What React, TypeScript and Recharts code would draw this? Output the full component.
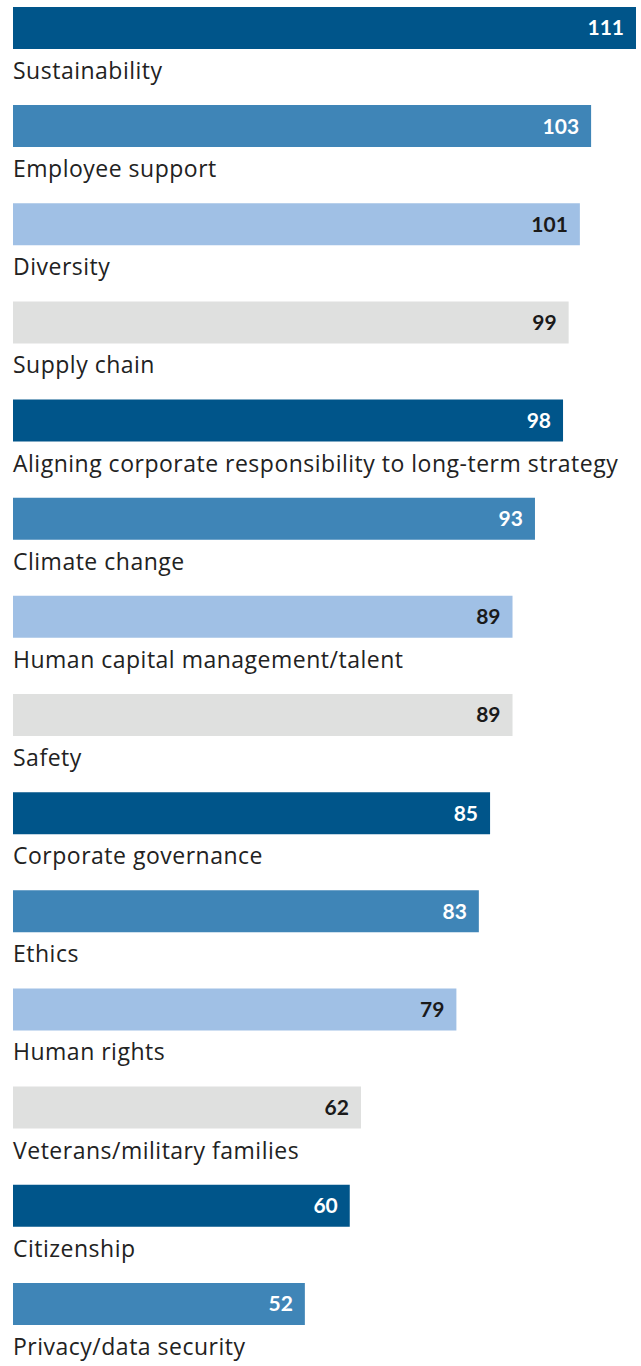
import { BarChart, Bar, XAxis, YAxis, Cell, LabelList } from "recharts"

const categories = [
  "Sustainability",
  "Employee support",
  "Diversity",
  "Supply chain",
  "Aligning corporate responsibility to long-term strategy",
  "Climate change",
  "Human capital management/talent",
  "Safety",
  "Corporate governance",
  "Ethics",
  "Human rights",
  "Veterans/military families",
  "Citizenship",
  "Privacy/data security",
]

const counts = [111, 103, 101, 99, 98, 93, 89, 89, 85, 83, 79, 62, 60, 52]

// colours repeat every four bars
const palette = ["#00558a", "#3f85b7", "#a0c0e5", "#dfe0df"]
const valueInk = ["#ffffff", "#ffffff", "#1a1a1a", "#1a1a1a"]

const data = categories.map((name, i) => ({ name, value: counts[i], idx: i }))

const FONT = "'Open Sans', 'Noto Sans', sans-serif"
const VALUE_FONT = "Lato, 'Noto Sans', sans-serif"

// eslint-disable-next-line @typescript-eslint/no-explicit-any
function NameLabel({ x, y, height, value }: any) {
  return (
    <text
      x={x}
      y={y + height + 30}
      fill="#222222"
      fontSize={23}
      letterSpacing={0.5}
      fontFamily={FONT}
      textAnchor="start"
    >
      {value}
    </text>
  )
}

// eslint-disable-next-line @typescript-eslint/no-explicit-any
function ValueLabel({ x, y, width, height, value, index }: any) {
  return (
    <text
      x={x + width - 12}
      y={y + height / 2 + 7.5}
      fill={valueInk[index % 4]}
      fontSize={21}
      fontWeight={700}
      fontFamily={VALUE_FONT}
      textAnchor="end"
    >
      {value}
    </text>
  )
}

export default function App() {
  return (
    <div
      style={{
        position: "absolute",
        left: 0,
        top: 0,
        width: 641,
        height: 1366,
        overflow: "hidden",
        background: "#ffffff",
      }}
    >
      <BarChart
        width={641}
        height={1366}
        data={data}
        layout="vertical"
        margin={{ top: -21.07, right: 5, left: 13, bottom: 12.97 }}
        barSize={42}
      >
        <XAxis type="number" domain={[0, 111]} hide />
        <YAxis type="category" dataKey="name" hide width={0} />
        <Bar dataKey="value" isAnimationActive={false}>
          {data.map((d) => (
            <Cell key={d.name} fill={palette[d.idx % 4]} />
          ))}
          <LabelList dataKey="value" content={<ValueLabel />} />
          <LabelList dataKey="name" content={<NameLabel />} />
        </Bar>
      </BarChart>
    </div>
  )
}
